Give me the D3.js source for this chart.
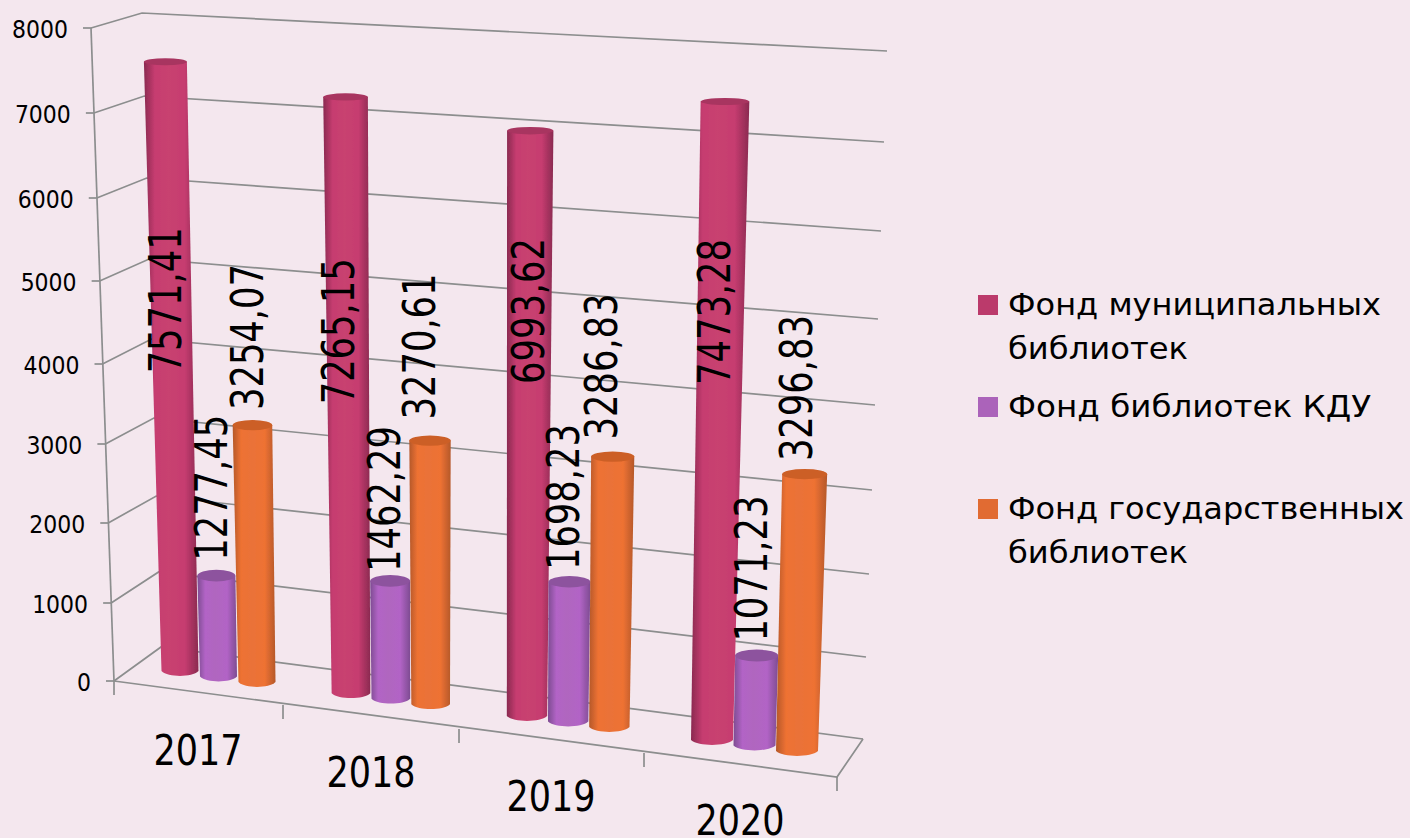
<!DOCTYPE html>
<html><head><meta charset="utf-8">
<script src="https://cdn.jsdelivr.net/npm/d3@7"></script>
<style>html,body{margin:0;padding:0;background:#f4e7ee;overflow:hidden}svg{display:block}text{font-family:"DejaVu Sans",sans-serif;fill:#000}</style>
</head><body><svg id="c" width="1410" height="838"></svg>
<script>
// ---- data ----
const categories = ["2017","2018","2019","2020"];
const seriesNames = ["Фонд муниципальных библиотек","Фонд библиотек КДУ","Фонд государственных библиотек"];
const municipal = [7571.41,7265.15,6993.62,7473.28];
const kdu = [1277.45,1462.29,1698.23,1071.23];
const state = [3254.07,3270.61,3286.83,3296.83];
const valueLabelsMunicipal = ["7571,41","7265,15","6993,62","7473,28"];
const valueLabelsKdu = ["1277,45","1462,29","1698,23","1071,23"];
const valueLabelsState = ["3254,07","3270,61","3286,83","3296,83"];
const valueTicks = [0,1000,2000,3000,4000,5000,6000,7000,8000];

// ---- layout ----
const svg = d3.select("#c");
const frontYRange = [681,603,523,444,364,281,198,113,28];
const backLYRange = [647,572,496,418,339,259,178,96,13];
const backRYRange = [739,657,574,490,405,319,231,142,51];
const frontY = d3.scaleLinear().domain(valueTicks).range(frontYRange);
const backLY = d3.scaleLinear().domain(valueTicks).range(backLYRange);
const backRY = d3.scaleLinear().domain(valueTicks).range(backRYRange);
const frontX = d3.scaleLinear().domain([0,8000]).range([114,91]);
const backLX = d3.scaleLinear().domain([0,8000]).range([161,142]);
const backRX = d3.scaleLinear().domain([0,8000]).range([863,887]);
const edgeX = d3.scaleLinear().domain([0,1,2,3,4]).range([114,283,459,644,837]);
const edgeY = d3.scaleLinear().domain([0,4]).range([681,777]);

const baseX = d3.scaleLinear().domain([0,1,2,3]).range([180,351,527,712]);
const baseY = d3.scaleLinear().domain([180,712]).range([671,740]);
const step = d3.scaleLinear().domain([0,3]).range([38.5,42.5]);
const unit = d3.scaleLinear().domain([0,3]).range([0.080,0.085]);
const bend = d3.scaleLinear().domain([0,3270,7300]).range([0,-3.5,3]);
const baseW = d3.scaleLinear().domain([0,3]).range([37,42]);
const spread = d3.scaleLinear().domain([0,7500]).range([0,0.0517]);
const widen = d3.scaleLinear().domain([0,7500]).range([1,1.16]);
const capRy = d3.scaleLinear().domain([1000,7500]).range([6,3.5]).clamp(true);
const vanishX = 460;

const palette = [
  {edge:"#8a2a50",mid:"#c63c70",light:"#c8426f",cap:"#a83460",sw:"#bb3a6b"},
  {edge:"#7e4c92",mid:"#b264c6",light:"#b066bf",cap:"#8d529e",sw:"#ab63ba"},
  {edge:"#b5582a",mid:"#ee7233",light:"#ea7238",cap:"#cc5f26",sw:"#e16b32"}
];
const labelGap = [[169,165,111,141],[-9,-3,-6,-8],[-10,-16,-12,-8]];
const labelDx = [[0,-7,-2,-10],[-5,-6,-6,-5],[-5,-11,-11,-8]];
const allValues = [municipal,kdu,state];
const allLabels = [valueLabelsMunicipal,valueLabelsKdu,valueLabelsState];

const defs = svg.append("defs");
defs.append("filter").attr("id","soft").append("feGaussianBlur").attr("stdDeviation",0.7);
palette.forEach((p,i)=>{
  const g = defs.append("linearGradient").attr("id","g"+i).attr("x1",0).attr("x2",1).attr("y1",0).attr("y2",0);
  [[0,p.edge],[0.2,p.mid],[0.45,p.light],[0.75,p.mid],[1,p.edge]].forEach(s=>g.append("stop").attr("offset",s[0]).attr("stop-color",s[1]));
});

const gridColor = "#8c8e8e";
const frame = svg.append("g").attr("filter","url(#soft)").attr("fill","none").attr("stroke",gridColor).attr("stroke-width",1.7);
const line = d3.line();
valueTicks.forEach(v=>{
  frame.append("path").attr("d",line([[frontX(v),frontY(v)],[backLX(v),backLY(v)],[backRX(v),backRY(v)]]));
  frame.append("path").attr("d",line([[frontX(v)-8,frontY(v)],[frontX(v),frontY(v)]]));
});
frame.append("path").attr("d",line([[frontX(8000),frontY(8000)],[frontX(0),frontY(0)]]));
frame.append("path").attr("d",line([[edgeX(0),edgeY(0)],[edgeX(4),edgeY(4)],[backRX(0),backRY(0)]]));
[0,1,2,3,4].forEach(t=>{
  frame.append("path").attr("d",line([[edgeX(t),edgeY(t)],[edgeX(t),edgeY(t)+14]]));
});

// value axis labels
svg.append("g").selectAll("text").data(valueTicks).join("text")
  .attr("x",v=>frontX(v)-23).attr("y",v=>frontY(v)+1)
  .attr("text-anchor","end").attr("dominant-baseline","central")
  .attr("font-size",25).attr("textLength",v=>String(v).length*14).attr("lengthAdjust","spacingAndGlyphs").text(v=>v);

// cylinders
const bars = svg.append("g").attr("filter","url(#soft)");
function geom(c,s,v){
  const xb = baseX(c)+s*step(c);
  const yb = baseY(baseX(c))+s*5.5;
  const w = baseW(c);
  const xt = xb+(xb-vanishX)*spread(v);
  const wt = w*widen(v);
  const yt = yb-unit(c)*v-bend(v);
  return {xb,yb,w,xt,wt,yt,ry:capRy(v)};
}
categories.forEach((cat,c)=>{
  allValues.forEach((vals,s)=>{
    const g = geom(c,s,vals[c]);
    const p = d3.path();
    p.moveTo(g.xt-g.wt/2,g.yt);
    p.lineTo(g.xb-g.w/2,g.yb);
    p.bezierCurveTo(g.xb-g.w/2+g.w*.18,g.yb+6.5,g.xb+g.w/2-g.w*.18,g.yb+6.5,g.xb+g.w/2,g.yb);
    p.lineTo(g.xt+g.wt/2,g.yt);
    p.closePath();
    bars.append("path").attr("d",p.toString()).attr("fill",`url(#g${s})`);
    bars.append("ellipse").attr("cx",g.xt).attr("cy",g.yt).attr("rx",g.wt/2).attr("ry",g.ry).attr("fill",palette[s].cap);
  });
});

// value labels
categories.forEach((cat,c)=>{
  allValues.forEach((vals,s)=>{
    const g = geom(c,s,vals[c]);
    const top = g.yt-g.ry+labelGap[s][c];
    const x = g.xt+labelDx[s][c];
    const t = svg.append("text")
      .attr("font-size",44)
      .attr("textLength",146).attr("lengthAdjust","spacingAndGlyphs")
      .attr("dominant-baseline","central")
      .text(allLabels[s][c]);
    t.attr("text-anchor",s===0?"end":"start").attr("transform",`translate(${x},${top}) rotate(-90)`);
  });
});

// category labels
const catX = d3.scaleLinear().domain([0,1,2,3]).range([198,371,551,740]);
const catY = d3.scaleLinear().domain([0,1,2,3]).range([765,787,811,835]);
svg.append("g").selectAll("text").data(categories).join("text")
  .attr("x",(d,i)=>catX(i)).attr("y",(d,i)=>catY(i))
  .attr("text-anchor","middle").attr("font-size",42)
  .attr("textLength",89).attr("lengthAdjust","spacingAndGlyphs").text(d=>d);

// legend
const legendRows = [
  {s:0,sq:295,lines:[["Фонд муниципальных",315,373],["библиотек",359,180]]},
  {s:1,sq:397,lines:[["Фонд библиотек КДУ",417,363]]},
  {s:2,sq:499,lines:[["Фонд государственных",519,396],["библиотек",563,180]]}
];
const legend = svg.append("g");
legendRows.forEach(r=>{
  legend.append("rect").attr("x",978).attr("y",r.sq).attr("width",20).attr("height",20).attr("fill",palette[r.s].sw);
  r.lines.forEach(l=>legend.append("text").attr("x",1008).attr("y",l[1]).attr("font-size",31)
    .attr("textLength",l[2]).attr("lengthAdjust","spacingAndGlyphs").text(l[0]));
});
</script></body></html>
